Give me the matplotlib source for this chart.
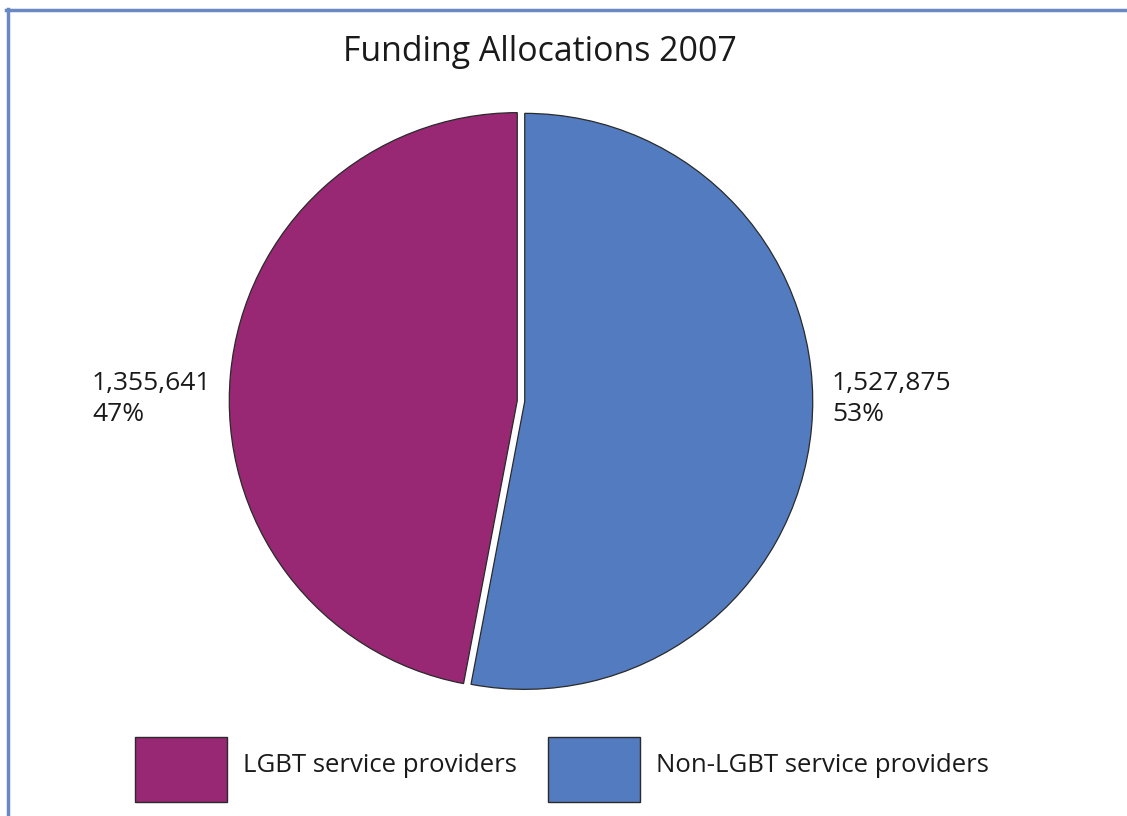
import matplotlib
matplotlib.use("Agg")
import matplotlib.pyplot as plt
from matplotlib.patches import Rectangle
from matplotlib.lines import Line2D

plt.rcParams['font.family'] = ['Open Sans', 'DejaVu Sans']

# data
categories = ["Non-LGBT service providers", "LGBT service providers"]
values = [1527875, 1355641]
colors = ["#537bc0", "#982774"]
title = "Funding Allocations 2007"

W, H = 1127, 816
fig = plt.figure(figsize=(W / 100, H / 100), dpi=100)

def fx(px):
    return px / W

def fy(py):
    return 1 - py / H

# pie axes, centre ~ (521, 401), radius ~ 288 px
lim = 1.02
half = 288 * lim
ax = fig.add_axes([fx(521 - half), fy(401 + half), 2 * half / W, 2 * half / H])
ax.pie(values, colors=colors, startangle=90, counterclock=False,
       explode=[0.013, 0.013],
       wedgeprops=dict(edgecolor="#2a2a2a", linewidth=0.9))
ax.set_xlim(-lim, lim)
ax.set_ylim(-lim, lim)
ax.set_aspect("equal")
ax.axis("off")

total = sum(values)
pct = [round(v / total * 100) for v in values]

# value labels
fig.text(fx(832), fy(399), f"{values[0]:,}\n{pct[0]}%", fontsize=19,
         ha="left", va="center", color="#1a1a1a", linespacing=1.3)
fig.text(fx(92), fy(399), f"{values[1]:,}\n{pct[1]}%", fontsize=19,
         ha="left", va="center", color="#1a1a1a", linespacing=1.3)

fig.text(fx(540), fy(52), title, fontsize=24.4, ha="center", va="center",
         color="#1a1a1a")

# legend
leg = [(135, categories[1], colors[1]), (548, categories[0], colors[0])]
for x0, lab, c in leg:
    fig.patches.append(Rectangle((fx(x0), fy(802)), 92 / W, 65 / H,
                                 transform=fig.transFigure, facecolor=c,
                                 edgecolor="#2a2a2a", linewidth=1.0))
    fig.text(fx(x0 + 108), fy(765), lab, fontsize=18.5, ha="left",
             va="center", color="#1a1a1a")

# frame (top and left only)
fig.lines.append(Line2D([fx(7.5), fx(7.5)], [0, fy(9)], transform=fig.transFigure,
                        color="#6a88c4", linewidth=2.5))
fig.lines.append(Line2D([fx(6), 1], [fy(10), fy(10)], transform=fig.transFigure,
                        color="#6a88c4", linewidth=2.5))

fig.savefig("out.png", dpi=100)
